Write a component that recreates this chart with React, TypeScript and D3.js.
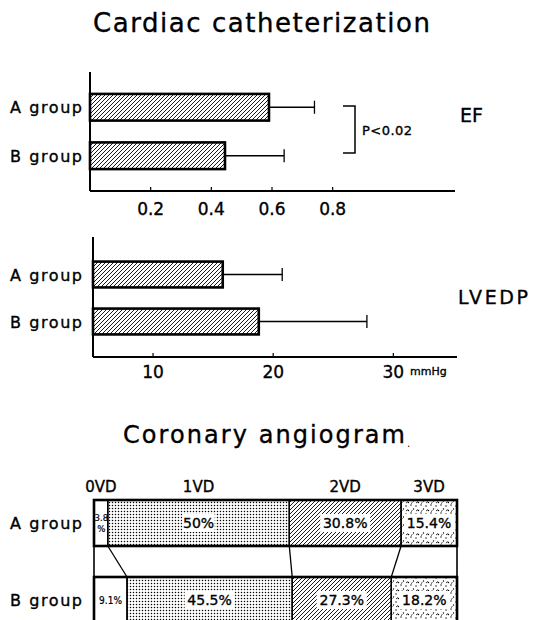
import * as d3 from 'd3';

// EF / LVEDP bars (mean and SD)
const groups = ["A group", "B group"];
const efMean = [0.59, 0.445];
const efSd = [0.15, 0.195];
const efTicks = [0.2, 0.4, 0.6, 0.8];
const lvedpMean = [15.8, 18.8];
const lvedpSd = [4.95, 9.0];
const lvedpTicks = [10, 20, 30];

// Coronary angiogram, percent of patients per vessel disease class
const vdLabels = ["0VD", "1VD", "2VD", "3VD"];
const angioA = [3.8, 50, 30.8, 15.4];
const angioB = [9.1, 45.5, 27.3, 18.2];

const FONT = "'DejaVu Sans', sans-serif";
const NARROW = "'DejaVu Sans Condensed', 'Liberation Sans Narrow', 'DejaVu Sans', sans-serif";
const segFills = ["white", "url(#dots)", "url(#hatch)", "url(#sparse)"];
// the scan's type is a bit heavier than the regular face
const ink = { fill: "#000", stroke: "#000", strokeWidth: 0.35 };
const inkSmall = { fill: "#000", stroke: "#000", strokeWidth: 0.2 };

interface PanelProps {
  means: number[];
  sds: number[];
  ticks: number[];
  x: d3.ScaleLinear<number, number>;
  y: d3.ScaleBand<string>;
  top: number;
  base: number;
  axisEnd: number;
  tickBase: number;
}

const BarPanel = ({ means, sds, ticks, x, y, top, base, axisEnd, tickBase }: PanelProps) => {
  const x0 = x.range()[0];
  const bw = y.bandwidth();
  return (
    <g>
      {groups.map((g, i) => {
        const yc = (y(g) ?? 0) + bw / 2;
        return (
          <g key={g}>
            <line x1={x(means[i])} x2={x(means[i] + sds[i])} y1={yc} y2={yc} stroke="#000" strokeWidth={1.3} />
            <line x1={x(means[i] + sds[i])} x2={x(means[i] + sds[i])} y1={yc - 6.5} y2={yc + 6.5} stroke="#000" strokeWidth={1.3} />
            <rect x={x0} y={y(g)} width={x(means[i]) - x0} height={bw} fill="url(#hatch)" stroke="#000" strokeWidth={2.6} />
            <text x={10} y={yc + 6} fontSize={16} textLength={72} lengthAdjust="spacing" fontFamily={FONT} {...ink}>{g}</text>
          </g>
        );
      })}
      <line x1={x0} x2={x0} y1={top} y2={base} stroke="#000" strokeWidth={2} />
      <line x1={x0} x2={axisEnd} y1={base} y2={base} stroke="#000" strokeWidth={2} />
      {ticks.map(t => (
        <g key={t}>
          <line x1={x(t)} x2={x(t)} y1={base} y2={base - 4} stroke="#000" strokeWidth={1.2} />
          <text x={x(t)} y={tickBase} fontSize={17} textAnchor="middle" fontFamily={FONT} {...ink}>{t}</text>
        </g>
      ))}
    </g>
  );
};

const App = () => {
  const efX = d3.scaleLinear().domain([0, 1.2]).range([90, 454]);
  const efY = d3.scaleBand().domain(groups).range([83, 180]).paddingInner(0.45).paddingOuter(0.225);
  const lvX = d3.scaleLinear().domain([5, 35.3]).range([93, 457]);
  const lvY = d3.scaleBand().domain(groups).range([251, 345]).paddingInner(0.45).paddingOuter(0.225);

  const agX = d3.scaleLinear().domain([0, 100]).range([94, 457]);
  const rows = [
    { name: groups[0], vals: angioA, y: 500 },
    { name: groups[1], vals: angioB, y: 577 },
  ];
  const rowH = 46;
  const cum = rows.map(r => [0, ...Array.from(d3.cumsum(r.vals))]);

  return (
    <div style={{ position: 'absolute', left: 0, top: 0 }}>
      <svg width={538} height={620} style={{ display: 'block', background: 'white' }}>
        <defs>
          <pattern id="hatch" width={4} height={4} patternUnits="userSpaceOnUse">
            <path d="M-1,1 l2,-2 M0,4 l4,-4 M3,5 l2,-2" stroke="#000" strokeWidth={0.9} />
          </pattern>
          <pattern id="dots" width={3} height={3} patternUnits="userSpaceOnUse">
            <circle cx={1.5} cy={1.5} r={0.75} fill="#000" />
          </pattern>
          <pattern id="sparse" width={10} height={8} patternUnits="userSpaceOnUse">
            <circle cx={1} cy={1} r={0.7} fill="#000" />
            <circle cx={6} cy={2} r={0.7} fill="#000" />
            <circle cx={3.5} cy={5} r={0.7} fill="#000" />
            <circle cx={8.5} cy={6.5} r={0.7} fill="#000" />
            <path d="M6,7 l2,-1.5 M1,7.5 l1.5,-1" stroke="#000" strokeWidth={0.8} />
          </pattern>
        </defs>

        <text x={93} y={32} fontSize={26} textLength={337} lengthAdjust="spacing" fontFamily={FONT} {...ink}>Cardiac catheterization</text>

        <BarPanel means={efMean} sds={efSd} ticks={efTicks} x={efX} y={efY} top={72} base={191} axisEnd={455} tickBase={215} />
        <path d="M343,106 H355 V153 H343" fill="none" stroke="#000" strokeWidth={1.5} />
        <text x={362} y={135} fontSize={13} textLength={50} lengthAdjust="spacing" fontFamily={FONT} {...ink}>P&lt;0.02</text>
        <text x={460} y={122} fontSize={19} fontFamily={FONT} {...ink}>EF</text>

        <BarPanel means={lvedpMean} sds={lvedpSd} ticks={lvedpTicks} x={lvX} y={lvY} top={237} base={357} axisEnd={457} tickBase={378} />
        <text x={410} y={375} fontSize={11} fontFamily={FONT} {...ink}>mmHg</text>
        <text x={458} y={304} fontSize={19} textLength={70} lengthAdjust="spacing" fontFamily={FONT} {...ink}>LVEDP</text>

        <text x={123} y={443} fontSize={24} textLength={282} lengthAdjust="spacing" fontFamily={FONT} {...ink}>Coronary angiogram</text>
        <text x={407} y={447} fontSize={10} fontFamily={FONT}>.</text>

        {vdLabels.map((v, i) => (
          <text key={v} x={(agX(cum[0][i]) + agX(cum[0][i + 1])) / 2} y={492} fontSize={15} textAnchor="middle" fontFamily={FONT} {...ink}>{v}</text>
        ))}

        {/* gap between rows: frame sides and connectors */}
        <line x1={agX(0)} x2={agX(0)} y1={rows[0].y + rowH} y2={rows[1].y} stroke="#000" strokeWidth={1.6} />
        <line x1={agX(100)} x2={agX(100)} y1={rows[0].y + rowH} y2={rows[1].y} stroke="#000" strokeWidth={1.6} />
        {[1, 2, 3].map(i => (
          <line key={i} x1={agX(cum[0][i])} y1={rows[0].y + rowH} x2={agX(cum[1][i])} y2={rows[1].y} stroke="#000" strokeWidth={1.3} />
        ))}

        {rows.map((r, ri) => (
          <g key={r.name}>
            <text x={10} y={r.y + rowH / 2 + 6} fontSize={16} textLength={72} lengthAdjust="spacing" fontFamily={FONT} {...ink}>{r.name}</text>
            {r.vals.map((v, i) => {
              const xa = agX(cum[ri][i]);
              const xb = agX(cum[ri][i + 1]);
              const cx = (xa + xb) / 2;
              const cy = r.y + rowH / 2;
              const label = `${v}%`;
              const boxW = label.length * 8.8 + 6;
              return (
                <g key={i}>
                  <rect x={xa} y={r.y} width={xb - xa} height={rowH} fill={segFills[i]} stroke="#000" strokeWidth={1.4} />
                  {i === 0 && xb - xa < 20 ? (
                    <text x={cx + 0.5} y={cy - 2} fontSize={9.5} textAnchor="middle" fontFamily={NARROW} {...inkSmall}>
                      <tspan x={cx + 0.5}>{v}</tspan>
                      <tspan x={cx + 0.5} dy={11}>%</tspan>
                    </text>
                  ) : i === 0 ? (
                    <text x={cx} y={cy + 4} fontSize={10} textAnchor="middle" fontFamily={NARROW} {...inkSmall}>{label}</text>
                  ) : (
                    <g>
                      <rect x={cx - boxW / 2} y={cy - 9} width={boxW} height={18} fill="white" />
                      <text x={cx} y={cy + 5} fontSize={14} textAnchor="middle" fontFamily={FONT} {...ink}>{label}</text>
                    </g>
                  )}
                </g>
              );
            })}
            <rect x={agX(0)} y={r.y} width={agX(100) - agX(0)} height={rowH} fill="none" stroke="#000" strokeWidth={2.6} />
          </g>
        ))}
      </svg>
    </div>
  );
};

export default App;
